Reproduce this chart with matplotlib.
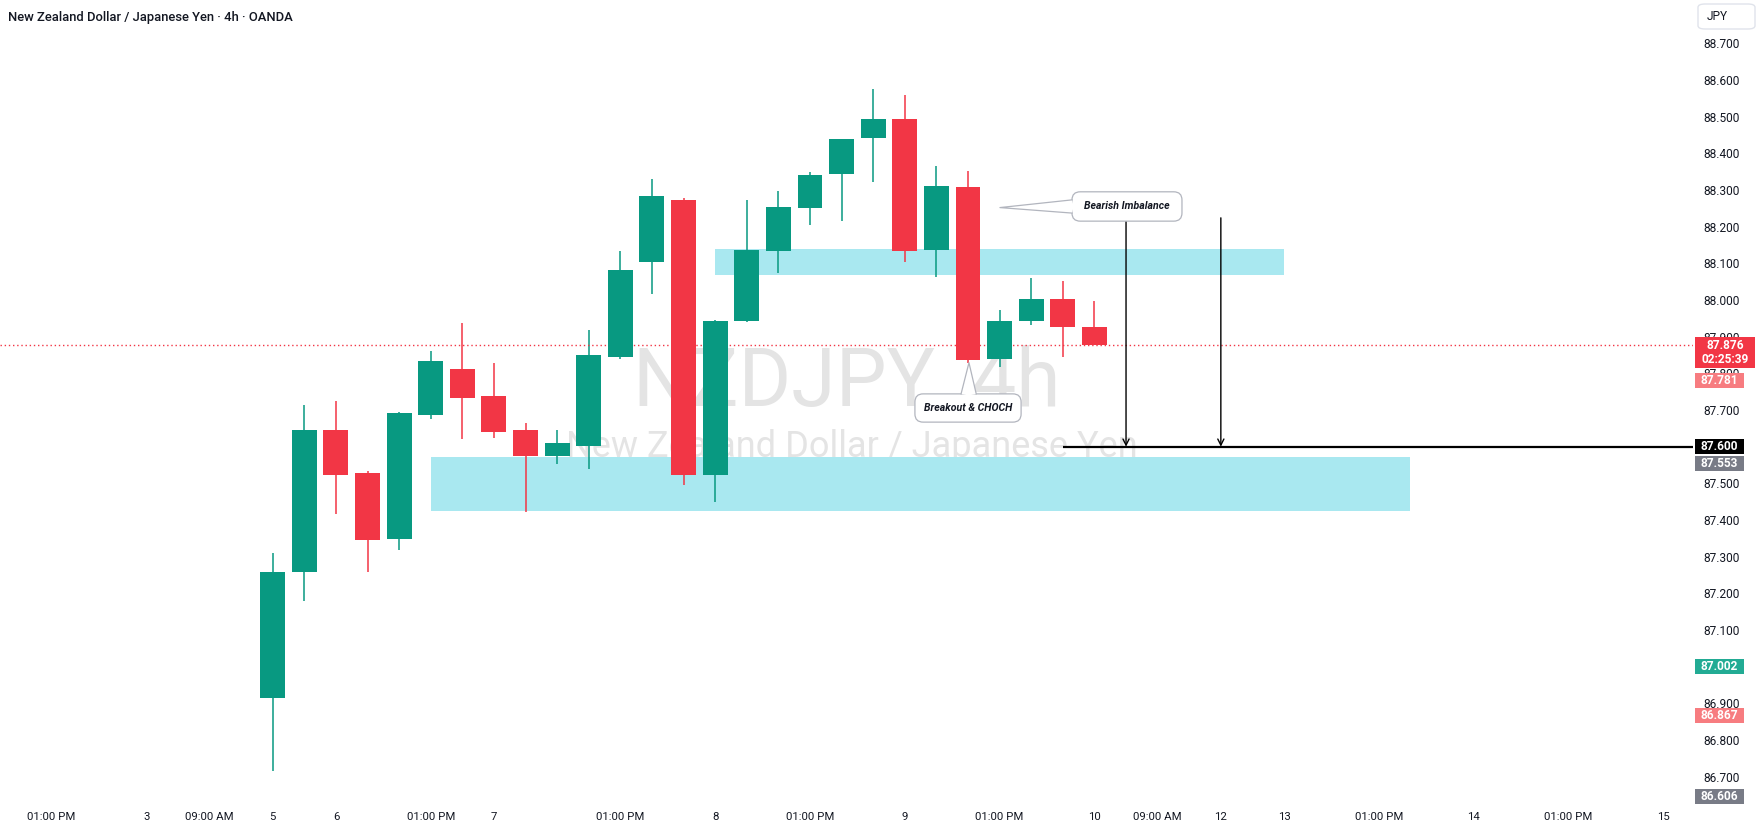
import matplotlib
matplotlib.use("Agg")
import matplotlib.pyplot as plt
from matplotlib.patches import Rectangle, FancyBboxPatch, Polygon

plt.rcParams['font.family'] = ['Roboto', 'DejaVu Sans']

# NZDJPY 4h candles (OANDA)
opens  = [86.915, 87.258, 87.645, 87.528, 87.348, 87.686, 87.812, 87.738, 87.645, 87.575, 87.602, 87.845, 88.104, 88.273,
          87.524, 87.943, 88.134, 88.251, 88.344, 88.443, 88.494, 88.137, 88.308, 87.840, 87.944, 88.003, 87.926]
highs  = [87.310, 87.714, 87.725, 87.534, 87.694, 87.861, 87.937, 87.828, 87.665, 87.645, 87.918, 88.134, 88.330, 88.278,
          87.945, 88.273, 88.297, 88.349, 88.440, 88.575, 88.559, 88.365, 88.352, 87.973, 88.060, 88.052, 87.997]
lows   = [86.716, 87.180, 87.416, 87.258, 87.318, 87.675, 87.621, 87.624, 87.422, 87.553, 87.539, 87.840, 88.016, 87.495,
          87.449, 87.940, 88.074, 88.205, 88.215, 88.322, 88.104, 88.063, 87.829, 87.818, 87.933, 87.845, 87.876]
closes = [87.258, 87.645, 87.523, 87.345, 87.692, 87.834, 87.733, 87.640, 87.575, 87.610, 87.850, 88.082, 88.284, 87.524,
          87.943, 88.136, 88.254, 88.341, 88.439, 88.494, 88.134, 88.311, 87.837, 87.943, 88.003, 87.927, 87.876]

# time axis labels (position in candle index units)
time_pos = [-7, -4, -2, 0, 2, 5, 7, 11, 14, 17, 20, 23, 26, 28, 30, 32, 35, 38, 41, 44]
time_labels = ["01:00 PM", "3", "09:00 AM", "5", "6", "01:00 PM", "7", "01:00 PM", "8", "01:00 PM",
               "9", "01:00 PM", "10", "09:00 AM", "12", "13", "01:00 PM", "14", "01:00 PM", "15"]

price_ticks = [86.7, 86.8, 86.9, 87.0, 87.1, 87.2, 87.3, 87.4, 87.5, 87.6,
               87.7, 87.8, 87.9, 88.0, 88.1, 88.2, 88.3, 88.4, 88.5, 88.6, 88.7]

# zones: start candle, end candle, low, high
demand_zone = [5, 36, 87.425, 87.572]
imbalance_zone = [14, 32, 88.068, 88.140]

target_level = 87.600
target_start = 25
arrow_x = [27, 30]
arrow_top = 88.224
last_price = 87.876
countdown = "02:25:39"

# other price scale tags
tag_values = [87.781, 87.553, 87.002, 86.867]
tag_colors = ['#f77c80', '#787b86', '#22ab94', '#f77c80']
low_tag = "86.606"

UP = '#089981'
DOWN = '#f23645'
TXT = '#131722'

W, H = 1760, 833
fig = plt.figure(figsize=(W / 100, H / 100), dpi=100)
ax = fig.add_axes([0, 28 / H, 1693 / W, 805 / H])
xmin, xmax = -8.63, 44.94
ax.set_xlim(xmin, xmax)
ax.set_ylim(86.623, 88.818)

# watermark
ax.text(847 / W, 1 - 406 / H, "NZDJPY, 4h", transform=fig.transFigure, fontsize=58,
        color='#e4e4e4', ha='center', va='baseline', zorder=0)
ax.text(852 / W, 1 - 457 / H, "New Zealand Dollar / Japanese Yen", transform=fig.transFigure,
        fontsize=26, color='#e4e4e4', ha='center', va='baseline', zorder=0)

# zones
for z in [demand_zone, imbalance_zone]:
    ax.add_patch(Rectangle((z[0], z[2]), z[1] - z[0], z[3] - z[2], facecolor='#a9e8f0',
                           edgecolor='none', zorder=1))

# candles
for i in range(len(opens)):
    o, h, l, c = opens[i], highs[i], lows[i], closes[i]
    col = UP if c >= o else DOWN
    ax.vlines(i, l, h, color=col, lw=1.1, zorder=2)
    ax.bar(i, abs(c - o), bottom=min(o, c), width=0.79, color=col, zorder=3)

# last price line
ax.axhline(last_price, color=DOWN, lw=1, ls=(0, (1, 2)), zorder=2)

# target line + arrows
ax.plot([target_start, xmax], [target_level, target_level], color='black', lw=1.6, zorder=4,
        solid_capstyle='butt')
for xa in arrow_x:
    ax.annotate('', xy=(xa, target_level), xytext=(xa, arrow_top),
                arrowprops=dict(arrowstyle='->', color='black', lw=1, shrinkA=0, shrinkB=0,
                                mutation_scale=11), zorder=4)

# callouts
asp = 31.6 / 366.7


def callout(x0, x1, y0, y1, text, base1, tip, base2, inner):
    box = FancyBboxPatch((x0, y0), x1 - x0, y1 - y0,
                         boxstyle="round,pad=0,rounding_size=0.26", mutation_aspect=asp,
                         facecolor='white', edgecolor='#b2b5be', lw=0.9, zorder=5)
    ax.add_patch(box)
    ax.add_patch(Polygon([inner[0], base1, tip, base2, inner[1]], closed=True,
                         facecolor='white', edgecolor='none', zorder=6))
    ax.plot([base1[0], tip[0], base2[0]], [base1[1], tip[1], base2[1]], color='#b2b5be',
            lw=0.9, zorder=7)
    ax.text((x0 + x1) / 2, (y0 + y1) / 2, text, fontsize=7.6, fontweight='bold', style='italic',
            color=TXT, ha='center', va='center', zorder=8)


callout(25.29, 28.77, 88.215, 88.295, "Bearish Imbalance",
        (25.29, 88.273), (23.01, 88.252), (25.29, 88.237),
        [(25.40, 88.237), (25.40, 88.273)])
callout(20.32, 23.68, 87.667, 87.744, "Breakout & CHOCH",
        (21.78, 87.744), (22.03, 87.829), (22.26, 87.744),
        [(22.26, 87.735), (21.78, 87.735)])

# axes styling
for s in ax.spines.values():
    s.set_visible(False)
ax.yaxis.tick_right()
ax.set_yticks(price_ticks, [f"{v:.3f}" for v in price_ticks])
ax.tick_params(axis='y', length=0, pad=7.5, labelsize=8.6, labelcolor=TXT)
ax.set_xticks(time_pos, time_labels)
ax.tick_params(axis='x', length=0, pad=5, labelsize=8.2, labelcolor=TXT)

# price scale tags
ytr = ax.get_yaxis_transform()
tag_x0 = 1 + 2 / 1693
tag_w = 49 / 1693
tag_h = 15 / 366.7


def price_tag(y, text, color, width=tag_w):
    ax.add_patch(Rectangle((tag_x0, y - tag_h / 2), width, tag_h, transform=ytr,
                           facecolor=color, edgecolor='none', clip_on=False, zorder=10))
    ax.text(tag_x0 + width / 2, y, text, transform=ytr, ha='center', va='center',
            fontsize=8.6, fontweight='bold', color='white', clip_on=False, zorder=11)


for v, c in zip(tag_values, tag_colors):
    price_tag(v, f"{v:.3f}", c)
price_tag(target_level, f"{target_level:.3f}", 'black')
price_tag(86.645, low_tag, '#787b86')

# last price tag with countdown
lp_w = 60 / 1693
ax.add_patch(Rectangle((tag_x0, 87.814), lp_w, 87.900 - 87.814, transform=ytr,
                       facecolor=DOWN, edgecolor='none', clip_on=False, zorder=10))
ax.text(tag_x0 + lp_w / 2, last_price, f"{last_price:.3f}", transform=ytr, ha='center', va='center',
        fontsize=8.6, fontweight='bold', color='white', clip_on=False, zorder=11)
ax.text(tag_x0 + lp_w / 2, 87.839, countdown, transform=ytr, ha='center', va='center',
        fontsize=8.6, fontweight='bold', color='white', clip_on=False, zorder=11)

# currency box
fig.patches.append(FancyBboxPatch((1698 / W, 1 - 29 / H), 57 / W, 25 / H,
                                  boxstyle="round,pad=0,rounding_size=0.004",
                                  transform=fig.transFigure, facecolor='white',
                                  edgecolor='#e0e3eb', lw=1))
fig.text(1707 / W, 1 - 17 / H, "JPY", fontsize=8.6, color=TXT, ha='left', va='center')

# title
fig.text(8 / W, 1 - 21 / H, "New Zealand Dollar / Japanese Yen · 4h · OANDA", fontsize=9.4,
         color=TXT, ha='left', va='baseline', fontweight='medium')

fig.savefig("out.png", dpi=100)
